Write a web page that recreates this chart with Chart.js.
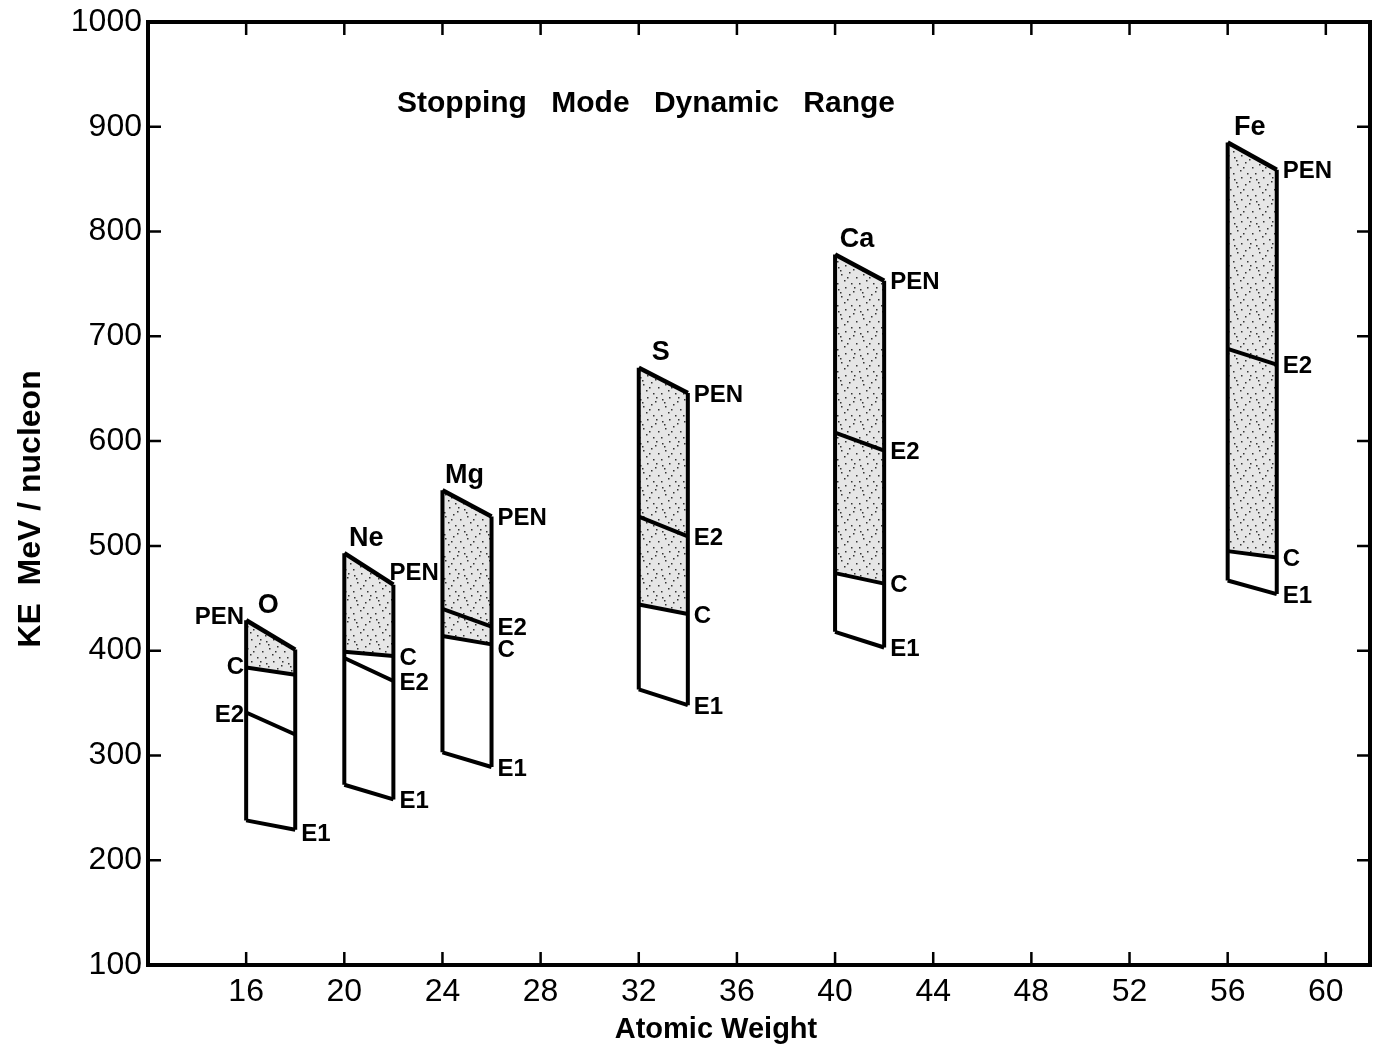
<!DOCTYPE html>
<html>
<head>
<meta charset="utf-8">
<script src="https://cdn.jsdelivr.net/npm/chart.js@4.4.0/dist/chart.umd.min.js"></script>
<style>
  html, body { margin: 0; padding: 0; background: #fff; }
  canvas { display: block; }
</style>
</head>
<body>
<canvas id="chart" width="1376" height="1056" style="width:1376px;height:1056px"></canvas>
<script>
// Stopping mode dynamic range per nucleus: each band spans two mass units,
// its edges given as KE (MeV/nucleon) at the left and right mass.
const elements   = ['O', 'Ne', 'Mg', 'S', 'Ca', 'Fe'];
const massLeft   = [16, 20, 24, 32, 40, 56];
const massRight  = [18, 22, 26, 34, 42, 58];
const penLeft    = [429, 493, 553, 670, 778, 885];
const penRight   = [401, 463, 528, 646, 753, 859];
const e2Left     = [341, 393, 440, 528, 608, 688];
const e2Right    = [320, 371, 423, 509, 591, 673];
const cLeft      = [384, 399, 414, 444, 474, 495];
const cRight     = [377, 395, 406, 435, 464, 489];
const e1Left     = [238, 272, 303, 363, 418, 467];
const e1Right    = [229, 258, 289, 348, 403, 454];

const xTickValues = [16, 20, 24, 28, 32, 36, 40, 44, 48, 52, 56, 60];
const yTickValues = [100, 200, 300, 400, 500, 600, 700, 800, 900, 1000];

const FONT = "'Liberation Sans', Arial, sans-serif";
const INK = '#000';

// light stipple used inside the PEN–C band
function stipple() {
  const tile = document.createElement('canvas');
  tile.width = 22; tile.height = 22;
  const t = tile.getContext('2d');
  t.fillStyle = '#e6e6e6';
  t.fillRect(0, 0, 22, 22);
  t.fillStyle = '#333';
  [[2,3],[9,1],[17,5],[5,10],[13,8],[20,13],[8,16],[15,19],[1,19],[11,13],[18,1],[4,6]]
    .forEach(([a, b]) => t.fillRect(a, b, 1.5, 1.5));
  return t.createPattern(tile, 'repeat');
}
const shade = stipple();

function seg(x1, y1, x2, y2) { return [{ x: x1, y: y1 }, { x: x2, y: y2 }]; }

const datasets = [];
elements.forEach((el, i) => {
  const L = massLeft[i], R = massRight[i];
  const base = { borderColor: INK, borderWidth: 4, pointRadius: 0, fill: false, tension: 0, order: 0 };
  const cIndex = datasets.length + 1;
  // the shaded band is painted first (higher order), outlines on top
  datasets.push({ ...base, label: el + ' PEN', data: seg(L, penLeft[i], R, penRight[i]),
                  fill: { target: cIndex }, backgroundColor: shade, borderWidth: 4.5, order: 1 });
  datasets.push({ ...base, label: el + ' C',  data: seg(L, cLeft[i],  R, cRight[i]) });
  datasets.push({ ...base, label: el + ' E2', data: seg(L, e2Left[i], R, e2Right[i]) });
  datasets.push({ ...base, label: el + ' E1', data: seg(L, e1Left[i], R, e1Right[i]) });
  datasets.push({ ...base, label: el + ' left',  data: seg(L, e1Left[i],  L, penLeft[i]) });
  datasets.push({ ...base, label: el + ' right', data: seg(R, e1Right[i], R, penRight[i]) });
});

// label placement: O carries PEN, C and E2 on its left edge
const leftSide = { O: ['PEN', 'C', 'E2'] };
const nudge = { 'O:PEN': [0, -3], 'O:E2': [0, 3], 'O:E1': [0, 3], 'Ne:PEN': [-10, -13], 'Mg:C': [0, 4] };

const framePlugin = {
  id: 'frame',
  afterDatasetsDraw(chart) {
    const { ctx, chartArea: a, scales: { x, y } } = chart;
    ctx.save();
    ctx.strokeStyle = INK;
    ctx.lineCap = 'butt';
    // inward tick marks on all four sides
    ctx.lineWidth = 2.5;
    const tl = 13;
    x.ticks.forEach(t => {
      const px = x.getPixelForValue(t.value);
      ctx.beginPath();
      ctx.moveTo(px, a.bottom); ctx.lineTo(px, a.bottom - tl);
      ctx.moveTo(px, a.top); ctx.lineTo(px, a.top + tl);
      ctx.stroke();
    });
    y.ticks.forEach(t => {
      const py = y.getPixelForValue(t.value);
      ctx.beginPath();
      ctx.moveTo(a.left, py); ctx.lineTo(a.left + tl, py);
      ctx.moveTo(a.right, py); ctx.lineTo(a.right - tl, py);
      ctx.stroke();
    });
    // frame
    ctx.lineWidth = 4;
    ctx.strokeRect(a.left, a.top, a.right - a.left, a.bottom - a.top);

    ctx.fillStyle = INK;
    ctx.textBaseline = 'middle';

    // title
    ctx.textAlign = 'center';
    ctx.font = 'bold 30px ' + FONT;
    ctx.wordSpacing = '16px';
    ctx.fillText('Stopping Mode Dynamic Range', 646, 104);
    ctx.wordSpacing = '0px';

    // axis titles
    ctx.font = 'bold 29px ' + FONT;
    ctx.fillText('Atomic Weight', 716, 1030);
    ctx.save();
    ctx.translate(31, 509);
    ctx.rotate(-Math.PI / 2);
    ctx.font = 'bold 32px ' + FONT;
    ctx.fillText('KE  MeV / nucleon', 0, 0);
    ctx.restore();

    // band labels
    elements.forEach((el, i) => {
      const xl = x.getPixelForValue(massLeft[i]);
      const xr = x.getPixelForValue(massRight[i]);
      ctx.font = 'bold 27px ' + FONT;
      ctx.textAlign = 'center';
      ctx.fillText(el, xl + 22, y.getPixelForValue(penLeft[i]) - 15);

      ctx.font = 'bold 24px ' + FONT;
      const lines = { PEN: [penLeft[i], penRight[i]], E2: [e2Left[i], e2Right[i]],
                      C: [cLeft[i], cRight[i]], E1: [e1Left[i], e1Right[i]] };
      Object.keys(lines).forEach(name => {
        const [dx, dy] = nudge[el + ':' + name] || [0, 0];
        const onLeft = (leftSide[el] || []).includes(name);
        if (onLeft) {
          ctx.textAlign = 'right';
          ctx.fillText(name, xl - 2 + dx, y.getPixelForValue(lines[name][0]) + dy);
        } else {
          ctx.textAlign = 'left';
          ctx.fillText(name, xr + 6 + dx, y.getPixelForValue(lines[name][1]) + 2 + dy);
        }
      });
    });
    ctx.restore();
  }
};

new Chart(document.getElementById('chart'), {
  type: 'line',
  data: { datasets },
  plugins: [framePlugin],
  options: {
    responsive: false,
    devicePixelRatio: 1,
    animation: false,
    layout: { padding: { top: 22, right: 6, bottom: 0, left: 0 } },
    plugins: { legend: { display: false }, tooltip: { enabled: false }, title: { display: false } },
    scales: {
      x: {
        type: 'linear', min: 12, max: 61.8,
        afterBuildTicks: s => { s.ticks = xTickValues.map(v => ({ value: v })); },
        afterFit: s => { s.height = 91; },
        grid: { display: false, tickLength: 0 }, border: { display: false },
        ticks: { color: INK, font: { family: FONT, size: 32 }, padding: 8, maxRotation: 0, autoSkip: false,
                 callback: v => String(v) }
      },
      y: {
        type: 'linear', min: 100, max: 1000,
        afterBuildTicks: s => { s.ticks = yTickValues.map(v => ({ value: v })); },
        afterFit: s => { s.width = 148; },
        grid: { display: false, tickLength: 0 }, border: { display: false },
        ticks: { color: INK, font: { family: FONT, size: 32, lineHeight: 1 }, padding: 6, autoSkip: false,
                 callback: v => String(v) }
      }
    }
  }
});
</script>
</body>
</html>
